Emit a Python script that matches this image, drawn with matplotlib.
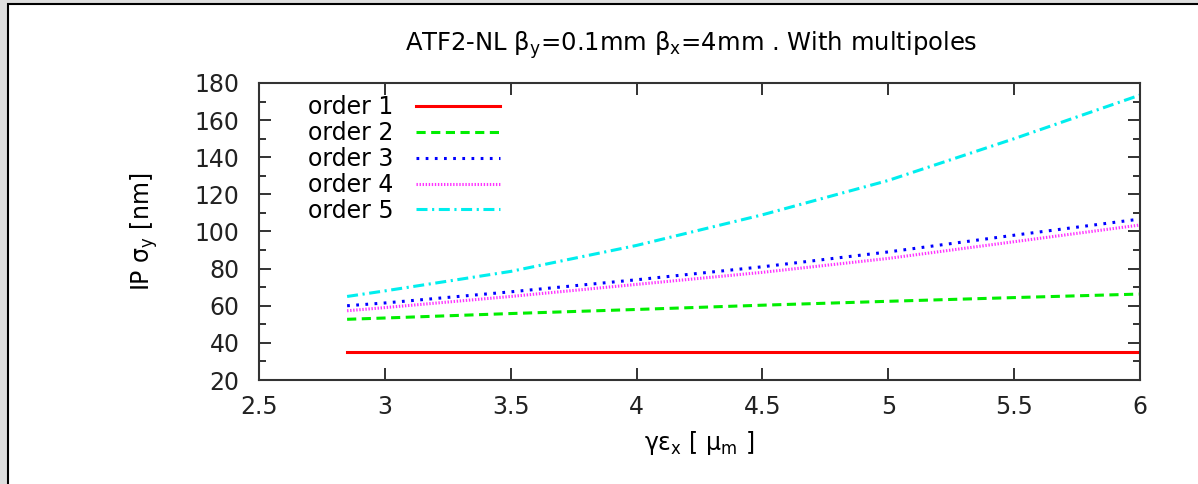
import matplotlib
matplotlib.use("Agg")
from matplotlib import pyplot as plt
from matplotlib.patches import Rectangle
from matplotlib.ticker import MultipleLocator, FormatStrFormatter

plt.rcParams['font.family'] = ['DejaVu Sans']
plt.rcParams['mathtext.default'] = 'regular'

# emittance values [um] and IP sigma_y [nm] for each multipole order
emit = [2.85, 3.0, 3.5, 4.0, 4.5, 5.0, 5.5, 6.0]
order1 = [35, 35, 35, 35, 35, 35, 35, 35]
order2 = [52.7, 53.4, 55.8, 58.0, 60.3, 62.4, 64.4, 66.3]
order3 = [60.0, 61.5, 67.5, 74.0, 81.0, 89.0, 98.0, 106.7]
order4 = [57.3, 59.0, 65.0, 71.5, 78.0, 85.5, 94.5, 103.5]
order5 = [65.0, 68.0, 78.5, 92.5, 109.0, 127.5, 150.0, 173.5]
labels = ['order 1', 'order 2', 'order 3', 'order 4', 'order 5']

W, H = 1198, 484
FS = 17
fig = plt.figure(figsize=(W / 100, H / 100), dpi=100)
fig.patch.set_facecolor('#dedede')
fig.patches.append(Rectangle((8 / W, -0.1), 1.2, 1.1 - 4 / H, transform=fig.transFigure,
                             facecolor='white', edgecolor='black', linewidth=1.5, zorder=-10))

ax = fig.add_axes([259 / W, 1 - 380 / H, (1140 - 259) / W, (380 - 83) / H])
ax.set_facecolor('white')

lw = 2.2
ax.plot(emit, order1, color='#ff0000', lw=lw, ls='-', label=labels[0])
ax.plot(emit, order2, color='#00ee00', lw=lw, ls=(0, (3.0, 1.8)), label=labels[1])
ax.plot(emit, order3, color='#0000ff', lw=lw, ls=(0, (0.9, 2.1)), label=labels[2])
ax.plot(emit, order4, color='#ff33ff', lw=lw, ls=(0, (0.45, 0.55)), label=labels[3])
ax.plot(emit, order5, color='#00eeee', lw=lw, ls=(0, (3.6, 1.5, 0.7, 1.5)), label=labels[4])

ax.set_xlim(2.5, 6)
ax.set_ylim(20, 180)
ax.xaxis.set_major_locator(MultipleLocator(0.5))
ax.xaxis.set_major_formatter(FormatStrFormatter('%g'))
ax.yaxis.set_major_locator(MultipleLocator(20))
ax.yaxis.set_minor_locator(MultipleLocator(10))
ax.tick_params(which='both', direction='in', top=True, right=True, labelsize=FS,
               colors='#222222', width=1.3)
ax.tick_params(which='major', length=8.5)
ax.tick_params(which='minor', length=5)
ax.tick_params(axis='x', which='minor', length=0)
ax.tick_params(axis='x', pad=11)
ax.tick_params(axis='y', pad=14)
for s in ax.spines.values():
    s.set_color('#333333')
    s.set_linewidth(1.5)

ax.set_title(r'ATF2-NL β$_y$=0.1mm β$_x$=4mm . With multipoles', fontsize=17.5, pad=23, x=0.49)
ax.set_xlabel(r'γε$_x$ [ μ$_m$ ]', fontsize=FS, labelpad=7)
ax.set_ylabel(r'IP σ$_y$ [nm]', fontsize=FS, labelpad=25)

ax.legend(loc='upper left', bbox_to_anchor=(0.0556, 0.958), frameon=False, markerfirst=False,
          fontsize=FS, handlelength=3.56, labelspacing=0.075, handletextpad=0.93,
          borderpad=0, borderaxespad=0)

fig.savefig('out.png', dpi=100, facecolor=fig.get_facecolor())
